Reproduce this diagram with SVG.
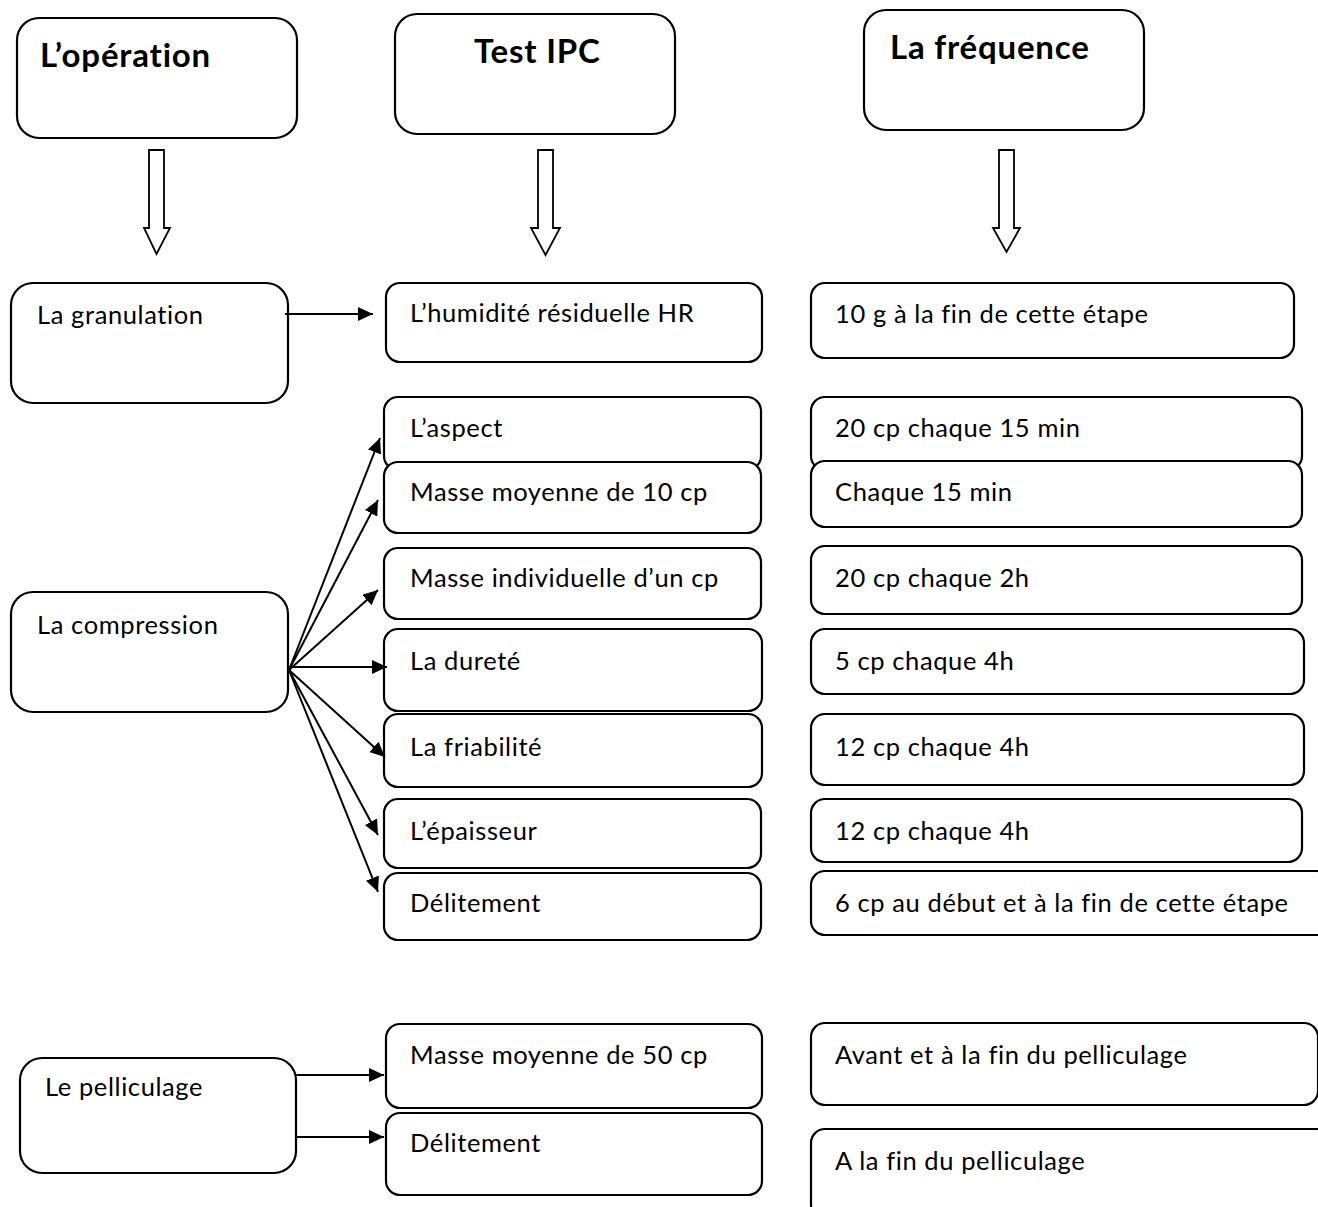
<svg xmlns="http://www.w3.org/2000/svg" width="1318" height="1207" viewBox="0 0 1318 1207">
<style>
.box{fill:#fff;stroke:#000;stroke-width:2.2}
.t{font-family:Lato,"Liberation Sans",sans-serif;font-size:25.5px;letter-spacing:0.6px;fill:#000}
.h{font-family:Lato,"Liberation Sans",sans-serif;font-size:33px;letter-spacing:0.8px;font-weight:bold;fill:#000}
.c{fill:none;stroke:#000;stroke-width:2}
.ha{fill:#fff;stroke:#000;stroke-width:1.8}
</style>
<defs>
<marker id="ar" markerUnits="userSpaceOnUse" markerWidth="16" markerHeight="14" refX="15" refY="7" orient="auto">
<path d="M0,0 L15,7 L0,14 Z" fill="#000"/>
</marker>
</defs>
<rect width="1318" height="1207" fill="#fff"/>

<g id="hdr-operation"><rect class="box" x="17" y="18" width="280" height="120" rx="22"/><text class="h" x="40" y="67">L’opération</text></g>
<g id="hdr-test"><rect class="box" x="395" y="14" width="280" height="120" rx="22"/><text class="h" x="474" y="63">Test IPC</text></g>
<g id="hdr-freq"><rect class="box" x="864" y="10" width="280" height="120" rx="22"/><text class="h" x="890" y="59">La fréquence</text></g>

<g id="op-granulation"><rect class="box" x="11" y="283" width="277" height="120" rx="22"/><text class="t" x="37" y="324">La granulation</text></g>
<g id="op-compression"><rect class="box" x="11" y="592" width="277" height="120" rx="22"/><text class="t" x="37" y="634">La compression</text></g>
<g id="op-pelliculage"><rect class="box" x="20" y="1058" width="276" height="115" rx="22"/><text class="t" x="45" y="1096">Le pelliculage</text></g>

<g id="t-hr"><rect class="box" x="386" y="283" width="376" height="79" rx="14"/><text class="t" x="410" y="322">L’humidité résiduelle HR</text></g>
<g id="t-aspect"><rect class="box" x="384" y="397" width="377" height="73" rx="14"/><text class="t" x="410" y="437">L’aspect</text></g>
<g id="t-mm10"><rect class="box" x="384" y="462" width="377" height="71" rx="14"/><text class="t" x="410" y="501">Masse moyenne de 10 cp</text></g>
<g id="t-mi"><rect class="box" x="384" y="548" width="377" height="71" rx="14"/><text class="t" x="410" y="587">Masse individuelle d’un cp</text></g>
<g id="t-durete"><rect class="box" x="384" y="629" width="378" height="82" rx="14"/><text class="t" x="410" y="670">La dureté</text></g>
<g id="t-friab"><rect class="box" x="384" y="714" width="378" height="73" rx="14"/><text class="t" x="410" y="756">La friabilité</text></g>
<g id="t-epais"><rect class="box" x="384" y="799" width="377" height="69" rx="14"/><text class="t" x="410" y="840">L’épaisseur</text></g>
<g id="t-delit1"><rect class="box" x="384" y="873" width="377" height="67" rx="14"/><text class="t" x="410" y="912">Délitement</text></g>
<g id="t-mm50"><rect class="box" x="386" y="1024" width="376" height="84" rx="14"/><text class="t" x="410" y="1064">Masse moyenne de 50 cp</text></g>
<g id="t-delit2"><rect class="box" x="386" y="1113" width="376" height="82" rx="14"/><text class="t" x="410" y="1152">Délitement</text></g>

<g id="f-hr"><rect class="box" x="811" y="283" width="483" height="75" rx="14"/><text class="t" x="835" y="323">10 g à la fin de cette étape</text></g>
<g id="f-aspect"><rect class="box" x="811" y="397" width="491" height="73" rx="14"/><text class="t" x="835" y="437">20 cp chaque 15 min</text></g>
<g id="f-mm10"><rect class="box" x="811" y="461" width="491" height="66" rx="14"/><text class="t" x="835" y="501">Chaque 15 min</text></g>
<g id="f-mi"><rect class="box" x="811" y="546" width="491" height="68" rx="14"/><text class="t" x="835" y="587">20 cp chaque 2h</text></g>
<g id="f-durete"><rect class="box" x="811" y="629" width="493" height="65" rx="14"/><text class="t" x="835" y="670">5 cp chaque 4h</text></g>
<g id="f-friab"><rect class="box" x="811" y="714" width="493" height="71" rx="14"/><text class="t" x="835" y="756">12 cp chaque 4h</text></g>
<g id="f-epais"><rect class="box" x="811" y="799" width="491" height="63" rx="14"/><text class="t" x="835" y="840">12 cp chaque 4h</text></g>
<g id="f-delit1"><rect class="box" x="811" y="871" width="520" height="64" rx="14"/><text class="t" x="835" y="912">6 cp au début et à la fin de cette étape</text></g>
<g id="f-mm50"><rect class="box" x="811" y="1023" width="507" height="82" rx="14"/><text class="t" x="835" y="1064">Avant et à la fin du pelliculage</text></g>
<g id="f-delit2"><rect class="box" x="811" y="1129" width="520" height="90" rx="14"/><text class="t" x="835" y="1170">A la fin du pelliculage</text></g>

<g id="connectors">
<polygon class="ha" points="149,150 164,150 164,228 170,228 156.5,254 144,228 149,228"/>
<polygon class="ha" points="538,150 553,150 553,228 560,228 545.5,255 531,228 538,228"/>
<polygon class="ha" points="999,150 1014,150 1014,228 1020,228 1006.5,252 993,228 999,228"/>
<line class="c" x1="285" y1="314" x2="373" y2="314" marker-end="url(#ar)"/>
<line class="c" x1="289" y1="670" x2="380" y2="438" marker-end="url(#ar)"/>
<line class="c" x1="289" y1="670" x2="378" y2="500" marker-end="url(#ar)"/>
<line class="c" x1="289" y1="670" x2="378" y2="590" marker-end="url(#ar)"/>
<line class="c" x1="289" y1="667" x2="387" y2="667" marker-end="url(#ar)"/>
<line class="c" x1="289" y1="670" x2="385" y2="757" marker-end="url(#ar)"/>
<line class="c" x1="289" y1="670" x2="378" y2="835" marker-end="url(#ar)"/>
<line class="c" x1="289" y1="670" x2="378" y2="892" marker-end="url(#ar)"/>
<line class="c" x1="296" y1="1075" x2="384" y2="1075" marker-end="url(#ar)"/>
<line class="c" x1="296" y1="1137" x2="384" y2="1137" marker-end="url(#ar)"/>
</g>
</svg>
